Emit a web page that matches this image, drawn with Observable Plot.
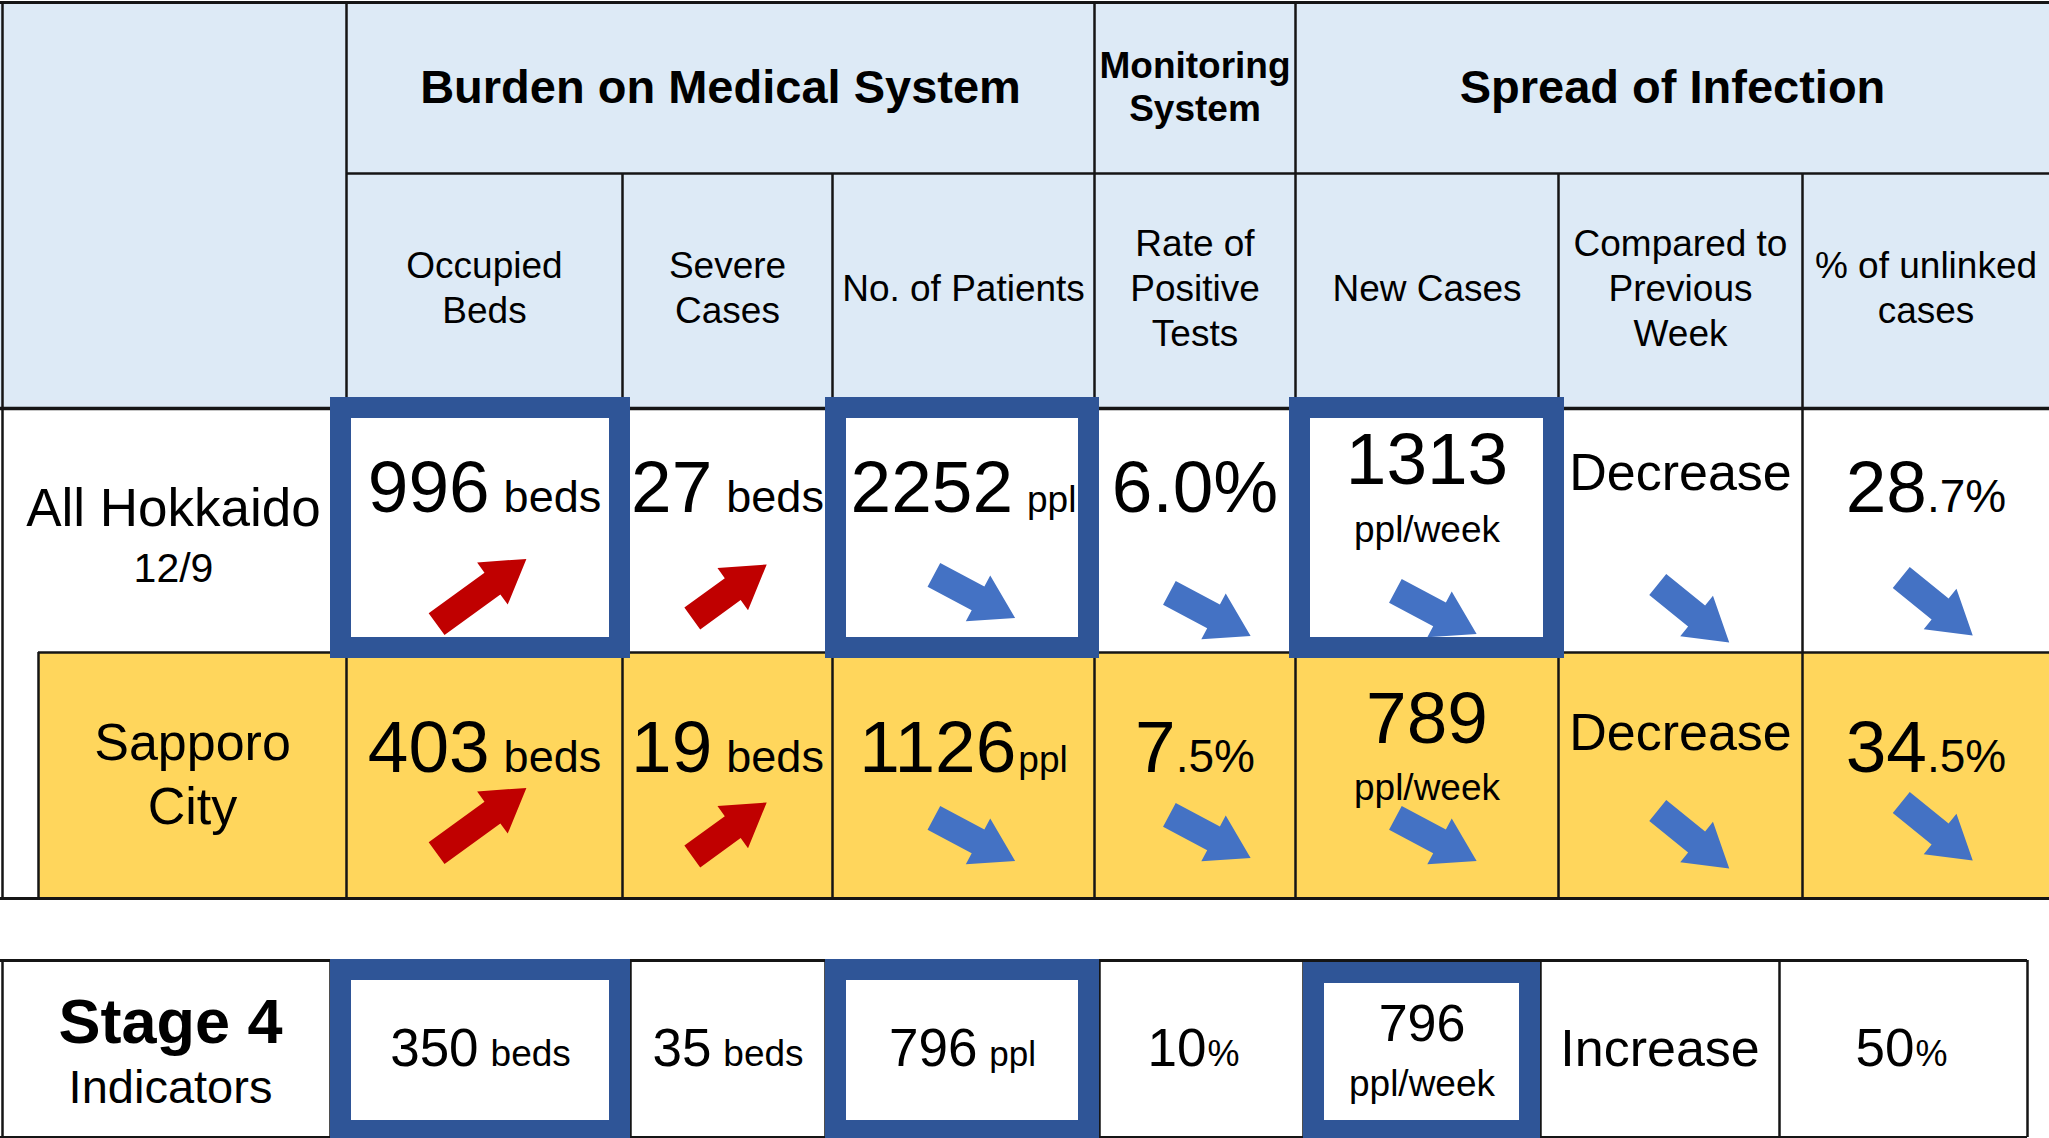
<!DOCTYPE html>
<html>
<head>
<meta charset="utf-8">
<script src="https://cdn.jsdelivr.net/npm/d3@7"></script>
<script src="https://cdn.jsdelivr.net/npm/@observablehq/plot@0.6"></script>
<style>
  html, body { margin: 0; padding: 0; background: #ffffff; }
  #chart svg { display: block; max-width: none; }
</style>
</head>
<body>
<div id="chart"></div>
<script>
// ---------------- DATA ----------------
const groups = ["Burden on Medical System", "Monitoring\nSystem", "Spread of Infection"];
const groupSpans = [3, 1, 3];
const indicators = ["Occupied\nBeds", "Severe\nCases", "No. of Patients", "Rate of\nPositive\nTests",
                    "New Cases", "Compared to\nPrevious\nWeek", "% of unlinked\ncases"];
const units = ["beds", "beds", "ppl", "%", "ppl/week", null, "%"];
const regions = ["All Hokkaido", "Sapporo\nCity"];
const reportDate = "12/9";
const hokkaidoValues = [996, 27, 2252, 6.0, 1313, "Decrease", 28.7];
const sapporoValues = [403, 19, 1126, 7.5, 789, "Decrease", 34.5];
const hokkaidoTrends = ["up", "up", "down", "down", "down", "down", "down"];
const sapporoTrends = ["up", "up", "down", "down", "down", "down", "down"];
const stageTitle = "Stage 4";
const stageSubtitle = "Indicators";
const stage4Values = [350, 35, 796, 10, 796, "Increase", 50];
const highlighted = [0, 2, 4];

// ---------------- LAYOUT / STYLE ----------------
const W = 2049, H = 1138;
const FONT = '"Liberation Sans", Arial, sans-serif';
const C = {
  header: "#DDEAF6", yellow: "#FFD65C", box: "#2F5597",
  red: "#C00000", blue: "#4472C4", line: "#151515"
};
const colEdges = [0, 346, 622, 832, 1094, 1295, 1558, 1802, 2049];
const stageEdges = [0, 330, 630, 825, 1099, 1303, 1540, 1779, 2027];
const stageNudge = [0, 0, 0, -8, 0, 0, -2];
const Yl = {top: 2, groupBottom: 173, headerBottom: 408, row1Bottom: 652, row2Bottom: 898,
            stageTop: 960, stageBottom: 1137};
const sapporoLeft = 38;
const rowBoxX = [[330, 630], [825, 1099], [1289, 1564]];
const rowBoxY = [397, 658];
const stageBoxX = [[330, 630], [825, 1099], [1303, 1540]];
const stageBoxY = [[959, 1141], [959, 1141], [962, 1141]];
const BOXW = 21;

const rowStyle = {
  big: 73, beds: 45, ppl: 37, pct: 46, week: 37, weekNum: 73, word: 52, gap: 14, pctGap: 0
};
const stageStyle = {
  big: 53, beds: 37, ppl: 35, pct: 36, week: 37, weekNum: 52, word: 52, gap: 12, pctGap: 1
};
const rowBaselines = [
  {num: 511, word: 489, top2: 483, bot2: 541},
  {num: 771, word: 749, top2: 742, bot2: 799}
];
const stageBaselines = {num: 1065, word: 1065, top2: 1040, bot2: 1095};
// arrow centre heights per row / column
const arrowMidY = [
  [591, 591, 596, 614, 612, 613, 606],
  [820, 829, 839, 836, 839, 839, 831]
];
const arrowDX = [-3, 2, 11, 15, 9, 13, 11];
const allBigPercent = new Set(["0-3"]);   // 6.0% drawn all large
const noUnitGap = new Set(["1-2"]);       // "1126ppl" has no space

// ---------------- HELPERS ----------------
const canvas = document.createElement("canvas");
const ctx = canvas.getContext("2d");
function tw(text, size, weight = 400) {
  ctx.font = `${weight} ${size}px ${FONT}`;
  return ctx.measureText(text).width;
}
const texts = [];
function addText(text, x, y, size, anchor = "middle", weight = "normal") {
  texts.push({text, x, y, size, anchor, weight});
}
function addLines(str, cx, lastBaseline, size, spacing, weight = "normal") {
  const lines = str.split("\n");
  lines.forEach((t, i) => addText(t, cx, lastBaseline - (lines.length - 1 - i) * spacing, size, "middle", weight));
}
function composite(big, bigSize, small, smallSize, gap, cx, baseline) {
  const w1 = tw(big, bigSize), w2 = tw(small, smallSize);
  const start = cx - (w1 + gap + w2) / 2;
  addText(big, start, baseline, bigSize, "start");
  addText(small, start + w1 + gap, baseline, smallSize, "start");
}
function cellText(value, unit, key, cx, st, bl, isStage) {
  if (typeof value === "string") {
    addText(value, cx, bl.word, st.word);
  } else if (unit === "ppl/week") {
    addText(String(value), cx, bl.top2, st.weekNum);
    addText(unit, cx, bl.bot2, st.week);
  } else if (unit === "%") {
    if (allBigPercent.has(key)) {
      addText(value.toFixed(1) + "%", cx, bl.num, st.big);
    } else if (isStage) {
      composite(String(value), st.big, "%", st.pct, st.pctGap, cx, bl.num);
    } else {
      const s = value.toFixed(1).split(".");
      composite(s[0], st.big, "." + s[1] + "%", st.pct, st.pctGap, cx, bl.num);
    }
  } else {
    const gap = noUnitGap.has(key) ? 2 : st.gap;
    composite(String(value), st.big, unit, st[unit], gap, cx, bl.num);
  }
}

// ---------------- BUILD ----------------
const colCenter = i => (colEdges[i + 1] + colEdges[i + 2]) / 2;
const stageCenter = i => (stageEdges[i + 1] + stageEdges[i + 2]) / 2 + stageNudge[i];

// group headers
let gi = 1;
groups.forEach((g, k) => {
  const x1 = colEdges[gi], x2 = colEdges[gi + groupSpans[k]];
  gi += groupSpans[k];
  const n = g.split("\n").length;
  if (n === 1) addLines(g, (x1 + x2) / 2, 102, 47, 43, "bold");
  else addLines(g, (x1 + x2) / 2, 120, 37, 43, "bold");
});
// indicator headers
indicators.forEach((t, i) => {
  const n = t.split("\n").length;
  addLines(t, colCenter(i), 300 + (n - 1) * 22.5, 37, 45);
});
// row labels
addText(regions[0], 173, 525, 53);
addText(reportDate, 173, 581, 41);
addLines(regions[1], (sapporoLeft + colEdges[1]) / 2, 823, 52, 64);
addText(stageTitle, 170, 1042, 63, "middle", "bold");
addText(stageSubtitle, 170, 1102, 47);

// values
[hokkaidoValues, sapporoValues].forEach((vals, r) => {
  vals.forEach((v, c) => cellText(v, units[c], `${r}-${c}`, colCenter(c), rowStyle, rowBaselines[r], false));
});
stage4Values.forEach((v, c) => cellText(v, units[c], `s-${c}`, stageCenter(c), stageStyle, stageBaselines, true));

// arrows
const arrowPts = [];
function arrow(id, trend, cx, cy, angleDeg, L) {
  const a = angleDeg * Math.PI / 180, ux = Math.cos(a), uy = Math.sin(a), nx = -uy, ny = ux;
  const sw = 13.5, hw = 26, hl = 42;
  const local = [[-L / 2, -sw], [L / 2 - hl, -sw], [L / 2 - hl, -hw], [L / 2, 0],
                 [L / 2 - hl, hw], [L / 2 - hl, sw], [-L / 2, sw]];
  local.forEach(([u, v]) => arrowPts.push({id, trend, x: cx + u * ux + v * nx, y: cy + u * uy + v * ny}));
}
[hokkaidoTrends, sapporoTrends].forEach((tr, r) => {
  tr.forEach((t, c) => {
    const up = t === "up";
    const angle = up ? -36 : (c >= 5 ? 39 : 28);
    const L = c === 0 ? 111 : 92;
    arrow(`${r}-${c}`, t, colCenter(c) + arrowDX[c], arrowMidY[r][c], angle, L);
  });
});

// backgrounds
const fills = [
  {x1: 0, x2: W, y1: Yl.top, y2: Yl.headerBottom, fill: C.header},
  {x1: sapporoLeft, x2: W, y1: Yl.row1Bottom, y2: Yl.row2Bottom, fill: C.yellow}
];
// grid lines
const hLines = [
  {y: Yl.top, x1: 0, x2: W, w: 3},
  {y: Yl.groupBottom, x1: colEdges[1], x2: W, w: 2.5},
  {y: Yl.headerBottom, x1: 0, x2: W, w: 3.5},
  {y: Yl.row1Bottom, x1: sapporoLeft, x2: W, w: 2.5},
  {y: Yl.row2Bottom, x1: 0, x2: W, w: 3},
  {y: Yl.stageTop, x1: 0, x2: stageEdges[8], w: 3},
  {y: Yl.stageBottom, x1: 0, x2: stageEdges[8], w: 3}
];
const vLines = [
  {x: 2, y1: Yl.top, y2: Yl.row2Bottom},
  {x: 2, y1: Yl.stageTop, y2: Yl.stageBottom},
  {x: sapporoLeft, y1: Yl.row1Bottom, y2: Yl.row2Bottom},
  {x: colEdges[1], y1: Yl.top, y2: Yl.row2Bottom},
  {x: colEdges[4], y1: Yl.top, y2: Yl.row2Bottom},
  {x: colEdges[5], y1: Yl.top, y2: Yl.row2Bottom},
  ...[2, 3, 6, 7].map(i => ({x: colEdges[i], y1: Yl.groupBottom, y2: Yl.row2Bottom})),
  ...[1, 2, 3, 4, 5, 6, 7, 8].map(i => ({x: stageEdges[i], y1: Yl.stageTop, y2: Yl.stageBottom}))
];
// boxes (drawn on stroke centerline)
const boxes = [];
highlighted.forEach((c, k) => {
  boxes.push({x1: rowBoxX[k][0] + BOXW / 2, x2: rowBoxX[k][1] - BOXW / 2,
              y1: rowBoxY[0] + BOXW / 2, y2: rowBoxY[1] - BOXW / 2});
  boxes.push({x1: stageBoxX[k][0] + BOXW / 2, x2: stageBoxX[k][1] - BOXW / 2,
              y1: stageBoxY[k][0] + BOXW / 2, y2: stageBoxY[k][1] - BOXW / 2});
});

const textMark = (anchor, weight) => Plot.text(
  texts.filter(d => d.anchor === anchor && d.weight === weight),
  {x: "x", y: "y", text: "text", fontSize: d => d.size, textAnchor: anchor, lineAnchor: "bottom",
   fontWeight: weight, fontFamily: FONT, fill: "#000"}
);

const chart = Plot.plot({
  width: W, height: H, margin: 0,
  x: {domain: [0, W], range: [0, W], axis: null},
  y: {domain: [0, H], range: [0, H], axis: null},
  style: {background: "#ffffff", overflow: "visible"},
  marks: [
    Plot.rect(fills, {x1: "x1", x2: "x2", y1: "y1", y2: "y2", fill: d => d.fill}),
    Plot.ruleY(hLines, {y: "y", x1: "x1", x2: "x2", stroke: C.line, strokeWidth: d => d.w}),
    Plot.ruleX(vLines, {x: "x", y1: "y1", y2: "y2", stroke: C.line, strokeWidth: 2.5}),
    Plot.rect(boxes, {x1: "x1", x2: "x2", y1: "y1", y2: "y2", fill: "none", stroke: C.box, strokeWidth: BOXW}),
    textMark("middle", "normal"),
    textMark("start", "normal"),
    textMark("middle", "bold"),
    Plot.line(arrowPts.filter(d => d.trend === "up"), {x: "x", y: "y", z: "id", fill: C.red, stroke: "none", curve: "linear-closed"}),
    Plot.line(arrowPts.filter(d => d.trend === "down"), {x: "x", y: "y", z: "id", fill: C.blue, stroke: "none", curve: "linear-closed"})
  ]
});
document.getElementById("chart").appendChild(chart);
</script>
</body>
</html>
